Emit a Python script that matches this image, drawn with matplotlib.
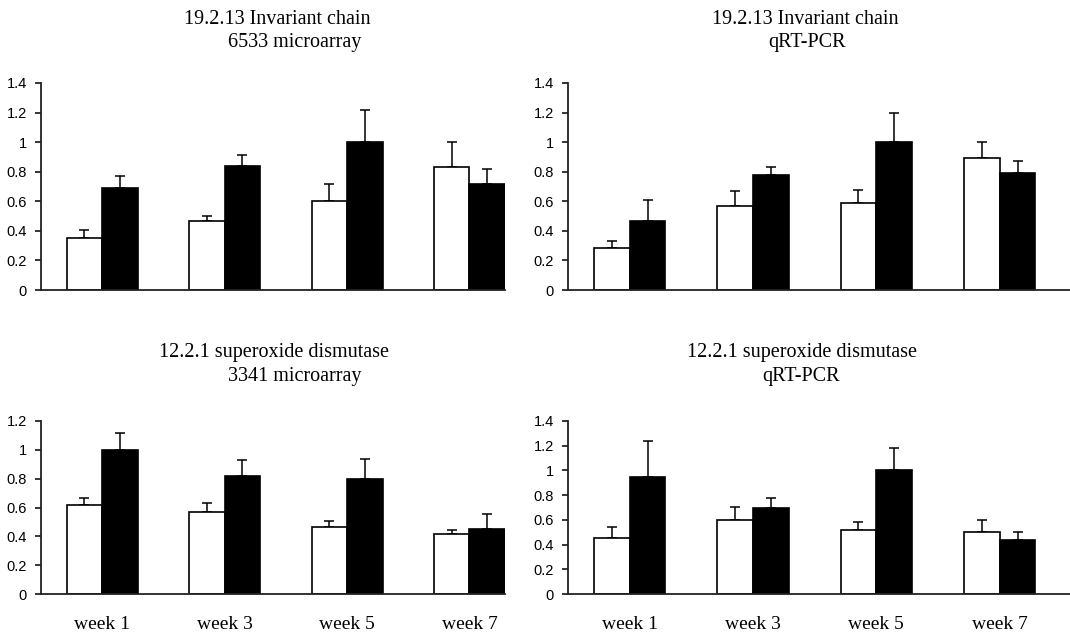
import numpy as np
import matplotlib
matplotlib.use("Agg")
import matplotlib.pyplot as plt
from matplotlib.ticker import FuncFormatter

weeks = ["week 1", "week 3", "week 5", "week 7"]

# 19.2.13 Invariant chain, 6533 microarray
inv_micro_white = [0.35, 0.47, 0.60, 0.83]
inv_micro_white_err = [0.055, 0.03, 0.115, 0.17]
inv_micro_black = [0.69, 0.84, 1.0, 0.72]
inv_micro_black_err = [0.08, 0.07, 0.215, 0.10]

# 19.2.13 Invariant chain, qRT-PCR
inv_pcr_white = [0.285, 0.565, 0.59, 0.895]
inv_pcr_white_err = [0.047, 0.105, 0.088, 0.107]
inv_pcr_black = [0.47, 0.775, 1.0, 0.79]
inv_pcr_black_err = [0.137, 0.056, 0.20, 0.085]

# 12.2.1 superoxide dismutase, 3341 microarray
sod_micro_white = [0.62, 0.57, 0.465, 0.418]
sod_micro_white_err = [0.046, 0.058, 0.041, 0.028]
sod_micro_black = [1.0, 0.82, 0.80, 0.45]
sod_micro_black_err = [0.115, 0.11, 0.136, 0.106]

# 12.2.1 superoxide dismutase, qRT-PCR
sod_pcr_white = [0.45, 0.60, 0.515, 0.50]
sod_pcr_white_err = [0.092, 0.104, 0.068, 0.10]
sod_pcr_black = [0.945, 0.70, 1.0, 0.435]
sod_pcr_black_err = [0.29, 0.073, 0.18, 0.065]

plt.rcParams['font.family'] = ['Liberation Sans', 'DejaVu Sans']

W, H = 1070, 636
fig = plt.figure(figsize=(W / 100, H / 100), dpi=100)


def px(x0, y_top, x1, y_bot):
    return [x0 / W, 1 - y_bot / H, (x1 - x0) / W, (y_bot - y_top) / H]


def panel(rect, white, werr, black, berr, ymax, xmax, show_weeks):
    ax = fig.add_axes(rect)
    x = np.arange(len(weeks))
    bw = 0.29
    ax.bar(x - bw / 2, white, bw, color='white', edgecolor='black', linewidth=1.2, zorder=2)
    ax.bar(x + bw / 2, black, bw, color='black', edgecolor='black', linewidth=1.2, zorder=2)
    ax.errorbar(x - bw / 2, white, yerr=[np.zeros(len(werr)), werr], fmt='none',
                ecolor='black', elinewidth=1.1, capsize=3.6, capthick=1.1, zorder=1)
    ax.errorbar(x + bw / 2, black, yerr=[np.zeros(len(berr)), berr], fmt='none',
                ecolor='black', elinewidth=1.1, capsize=3.6, capthick=1.1, zorder=1)
    ax.set_xlim(-0.5, xmax)
    ax.set_ylim(0, ymax)
    ax.set_yticks(np.arange(0, ymax + 0.01, 0.2))
    ax.yaxis.set_major_formatter(FuncFormatter(lambda v, p: "%g" % round(v, 1)))
    for s in ['top', 'right']:
        ax.spines[s].set_visible(False)
    for s in ['left', 'bottom']:
        ax.spines[s].set_linewidth(1.3)
        ax.spines[s].set_color('#222222')
    ax.tick_params(axis='y', length=4, width=1.1, labelsize=10.5, pad=6)
    ax.set_xticks(x)
    if show_weeks:
        ax.set_xticklabels(weeks, family='Liberation Serif', fontsize=14)
        ax.tick_params(axis='x', length=0, pad=16)
    else:
        ax.set_xticklabels([])
        ax.tick_params(axis='x', length=0)
    return ax


panel(px(41, 83, 505, 290), inv_micro_white, inv_micro_white_err,
      inv_micro_black, inv_micro_black_err, 1.4, 3.29, False)
panel(px(568, 83, 1070, 290), inv_pcr_white, inv_pcr_white_err,
      inv_pcr_black, inv_pcr_black_err, 1.4, 3.57, False)
panel(px(41, 421, 505, 594), sod_micro_white, sod_micro_white_err,
      sod_micro_black, sod_micro_black_err, 1.2, 3.29, True)
panel(px(568, 421, 1070, 594), sod_pcr_white, sod_pcr_white_err,
      sod_pcr_black, sod_pcr_black_err, 1.4, 3.57, True)

titles = [
    ("19.2.13 Invariant chain", 277, 20),
    ("6533 microarray", 295, 43),
    ("19.2.13 Invariant chain", 805, 20),
    ("qRT-PCR", 807, 43),
    ("12.2.1 superoxide dismutase", 274, 353),
    ("3341 microarray", 295, 377),
    ("12.2.1 superoxide dismutase", 802, 353),
    ("qRT-PCR", 801, 377),
]
for txt, tx, ty in titles:
    fig.text(tx / W, 1 - ty / H, txt, ha='center', va='center',
             family='Liberation Serif', fontsize=14.5)

fig.savefig("out.png", dpi=100)
